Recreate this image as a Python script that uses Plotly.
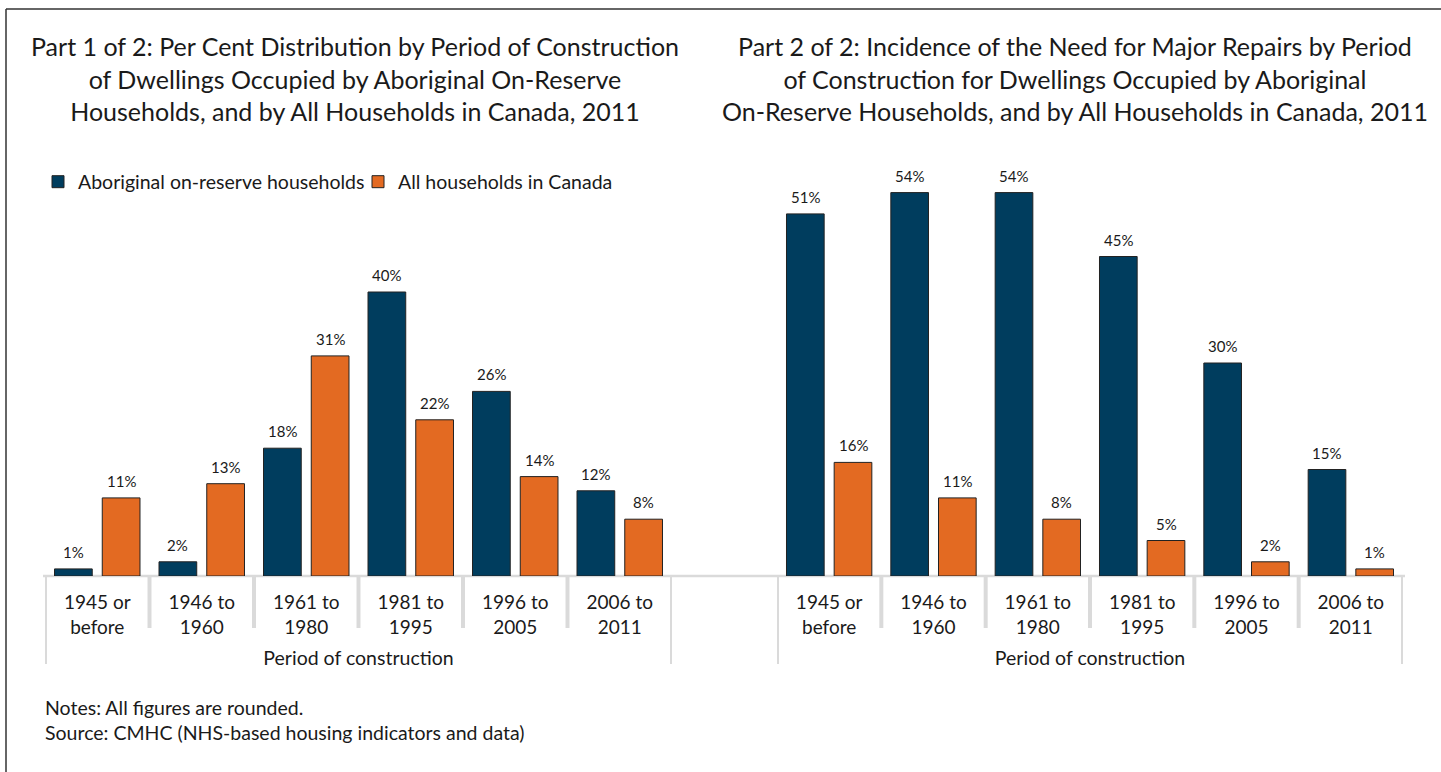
import plotly.graph_objects as go

W, H = 1441, 772

categories = ["1945 or<br>before", "1946 to<br>1960", "1961 to<br>1980",
              "1981 to<br>1995", "1996 to<br>2005", "2006 to<br>2011"]
dist_aboriginal = [1, 2, 18, 40, 26, 12]
dist_canada = [11, 13, 31, 22, 14, 8]
repair_aboriginal = [51, 54, 54, 45, 30, 15]
repair_canada = [16, 11, 8, 5, 2, 1]

series_names = ["Aboriginal on-reserve households", "All households in Canada"]
title_left = ("Part 1 of 2: Per Cent Distribution by Period of Construction<br>"
              "of Dwellings Occupied by Aboriginal On-Reserve<br>"
              "Households, and by All Households in Canada, 2011")
title_right = ("Part 2 of 2: Incidence of the Need for Major Repairs by Period<br>"
               "of Construction for Dwellings Occupied by Aboriginal<br>"
               "On-Reserve Households, and by All Households in Canada, 2011")
axis_title = "Period of construction"
notes = "Notes: All figures are rounded.<br>Source: CMHC (NHS-based housing indicators and data)"

BLUE = "#003D5E"
ORANGE = "#E36A22"
GRID = "#DADADA"
TXT = "#1a1a1a"
FONT = "Lato"

def px(x):
    return x / W

def py(y):
    return 1 - y / H

x_idx = list(range(len(categories)))

fig = go.Figure()
for vals, color, name, xa, ya, show in [
    (dist_aboriginal, BLUE, series_names[0], "x", "y", True),
    (dist_canada, ORANGE, series_names[1], "x", "y", True),
    (repair_aboriginal, BLUE, series_names[0], "x2", "y2", False),
    (repair_canada, ORANGE, series_names[1], "x2", "y2", False),
]:
    fig.add_trace(go.Bar(x=x_idx, y=vals, name=name, marker_color=color,
                         marker_line=dict(color="#222222", width=1),
                         xaxis=xa, yaxis=ya, showlegend=show, hoverinfo="skip"))

ann = []
for vals, xref, yref, shift in [
    (dist_aboriginal, "x", "y", -24), (dist_canada, "x", "y", 24),
    (repair_aboriginal, "x2", "y2", -24), (repair_canada, "x2", "y2", 24),
]:
    for i, v in enumerate(vals):
        ann.append(dict(x=i, y=v, xref=xref, yref=yref, text=f"{v}%", showarrow=False,
                        yanchor="bottom", xshift=shift, yshift=6,
                        font=dict(family=FONT, size=15, color=TXT)))

ann.append(dict(x=px(355), y=py(78), xref="paper", yref="paper", text=title_left,
                showarrow=False, align="center", xanchor="center", yanchor="middle",
                font=dict(family=FONT, size=25, color=TXT)))
ann.append(dict(x=px(1075), y=py(78), xref="paper", yref="paper", text=title_right,
                showarrow=False, align="center", xanchor="center", yanchor="middle",
                font=dict(family=FONT, size=25, color=TXT)))
ann.append(dict(x=px(43), y=py(720), xref="paper", yref="paper", text=notes,
                showarrow=False, align="left", xanchor="left", yanchor="middle",
                font=dict(family=FONT, size=19.5, color=TXT)))

shapes = []
# frame
shapes.append(dict(type="line", xref="paper", yref="paper", x0=px(6), x1=px(6), y0=0, y1=py(9),
                   line=dict(color="#333333", width=1.5)))
shapes.append(dict(type="line", xref="paper", yref="paper", x0=px(6), x1=1, y0=py(9), y1=py(9),
                   line=dict(color="#333333", width=1.5)))
# baseline
shapes.append(dict(type="line", xref="paper", yref="paper", x0=px(43), x1=px(1405),
                   y0=py(576), y1=py(576), line=dict(color=GRID, width=2.5), layer="below"))
for xr in ["x", "x2"]:
    n = len(categories)
    for k in range(n + 1):
        outer = k in (0, n)
        shapes.append(dict(type="line", xref=xr, yref="paper", x0=k - 0.5, x1=k - 0.5,
                           y0=py(576), y1=py(664 if outer else 628),
                           line=dict(color=GRID, width=4), layer="below"))

ydom = [py(576), py(150)]
axis_common = dict(type="linear", range=[-0.5, 5.5], tickmode="array", tickvals=x_idx,
                   ticktext=categories, showgrid=False, zeroline=False, showline=False,
                   ticks="outside", ticklen=9, tickcolor="rgba(0,0,0,0)",
                   tickfont=dict(family=FONT, size=19, color=TXT),
                   title=dict(text=axis_title, font=dict(family=FONT, size=19.5, color=TXT), standoff=14))
yaxis_common = dict(range=[0, 60], visible=False, showgrid=False, zeroline=False)

fig.update_layout(
    width=W, height=H, margin=dict(l=0, r=0, t=0, b=0),
    paper_bgcolor="white", plot_bgcolor="white",
    barmode="group", bargap=0.086, bargroupgap=0.21,
    xaxis=dict(domain=[px(45), px(672)], anchor="y", **axis_common),
    xaxis2=dict(domain=[px(777), px(1403)], anchor="y2", **axis_common),
    yaxis=dict(domain=ydom, anchor="x", **yaxis_common),
    yaxis2=dict(domain=ydom, anchor="x2", **yaxis_common),
    legend=dict(orientation="h", x=px(38), y=py(182), xanchor="left", yanchor="middle",
                entrywidth=275, entrywidthmode="pixels",
                font=dict(family=FONT, size=19.5, color=TXT), bgcolor="rgba(0,0,0,0)"),
    annotations=ann, shapes=shapes, showlegend=True,
)

fig.write_html("out.html", config={"displayModeBar": False},
               post_script="document.body.style.margin='0';document.body.style.overflow='hidden';")
